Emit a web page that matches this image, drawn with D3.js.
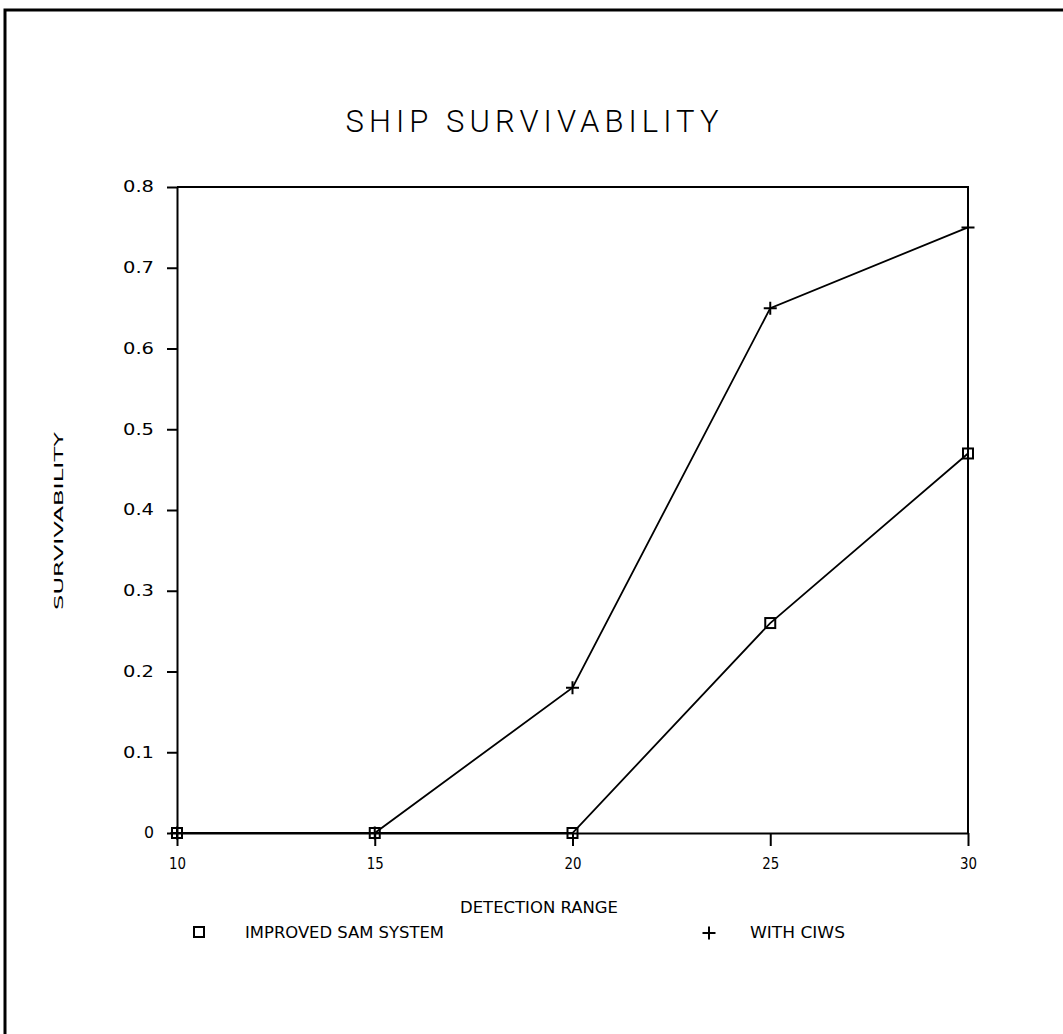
<!DOCTYPE html>
<html>
<head>
<meta charset="utf-8">
<script src="https://cdn.jsdelivr.net/npm/d3@7"></script>
<style>
  body { margin: 0; background: #fff; }
  svg { display: block; }
</style>
</head>
<body>
<div id="chart"></div>
<script>
// values
const detectionRange = [10, 15, 20, 25, 30];
const improvedSam = [0, 0, 0, 0.26, 0.47];
const withCiws = [0, 0, 0.18, 0.65, 0.75];
const xTicks = [10, 15, 20, 25, 30];
const yTicks = [0, 0.1, 0.2, 0.3, 0.4, 0.5, 0.6, 0.7, 0.8];
const yTickLabels = ["0", "0.1", "0.2", "0.3", "0.4", "0.5", "0.6", "0.7", "0.8"];
const seriesNames = ["IMPROVED SAM SYSTEM", "WITH CIWS"];

const W = 1063, H = 1034;
const plot = { left: 177, right: 968, top: 187, bottom: 833 };
const textFont = "'DejaVu Sans', 'Liberation Sans', sans-serif";

const svg = d3.select("#chart").append("svg")
  .attr("width", W)
  .attr("height", H);

// page frame (only top and left edges show in the scan)
svg.append("path")
  .attr("d", `M5,${H} V10 H${W}`)
  .attr("fill", "none")
  .attr("stroke", "#000")
  .attr("stroke-width", 3);

const x = d3.scaleLinear().domain([10, 30]).range([plot.left, plot.right]);
const y = d3.scaleLinear().domain([0, 0.8]).range([plot.bottom, plot.top]);

// title
svg.append("text")
  .attr("x", 532)
  .attr("y", 132)
  .attr("text-anchor", "middle")
  .attr("font-family", "Roboto, 'DejaVu Sans', sans-serif")
  .attr("font-weight", 300)
  .attr("font-size", 31)
  .attr("textLength", 373)
  .attr("lengthAdjust", "spacing")
  .text("SHIP SURVIVABILITY");

// top and right edges of plot box
svg.append("path")
  .attr("d", `M${plot.left},${plot.top} H${plot.right} V${plot.bottom}`)
  .attr("fill", "none")
  .attr("stroke", "#000")
  .attr("stroke-width", 2);

// y axis
const yAxis = svg.append("g")
  .attr("transform", `translate(${plot.left},0)`)
  .call(d3.axisLeft(y)
    .tickValues(yTicks)
    .tickFormat((d, i) => yTickLabels[i])
    .tickSize(10)
    .tickSizeOuter(0)
    .tickPadding(13));

yAxis.selectAll("path, line").attr("stroke", "#000").attr("stroke-width", 2);
yAxis.selectAll("text")
  .attr("font-family", textFont)
  .attr("font-size", 15)
  .attr("fill", "#000")
  .attr("textLength", d => yTickLabels[yTicks.indexOf(d)].length > 1 ? 31 : 10)
  .attr("lengthAdjust", "spacingAndGlyphs");

// x axis
const xAxis = svg.append("g")
  .attr("transform", `translate(0,${plot.bottom})`)
  .call(d3.axisBottom(x)
    .tickValues(xTicks)
    .tickFormat(d3.format("d"))
    .tickSize(13)
    .tickSizeOuter(0)
    .tickPadding(12));

xAxis.selectAll("path, line").attr("stroke", "#000").attr("stroke-width", 2);
xAxis.selectAll("text")
  .attr("font-family", textFont)
  .attr("font-size", 16)
  .attr("fill", "#000")
  .attr("textLength", 17)
  .attr("lengthAdjust", "spacingAndGlyphs");

// axis titles
svg.append("text")
  .attr("x", 539)
  .attr("y", 913)
  .attr("text-anchor", "middle")
  .attr("font-family", textFont)
  .attr("font-size", 15)
  .attr("textLength", 158)
  .attr("lengthAdjust", "spacingAndGlyphs")
  .text("DETECTION RANGE");

svg.append("text")
  .attr("transform", "translate(63,521) rotate(-90)")
  .attr("text-anchor", "middle")
  .attr("font-family", textFont)
  .attr("font-size", 12)
  .attr("textLength", 178)
  .attr("lengthAdjust", "spacingAndGlyphs")
  .text("SURVIVABILITY");

// lines
const line = d3.line()
  .x((d, i) => x(detectionRange[i]))
  .y(d => y(d));

[improvedSam, withCiws].forEach(vals => {
  svg.append("path")
    .datum(vals)
    .attr("d", line)
    .attr("fill", "none")
    .attr("stroke", "#000")
    .attr("stroke-width", 1.8);
});

// markers
const sq = 10, pl = 13;
function drawSquare(g, cx, cy) {
  g.append("rect")
    .attr("x", cx - sq / 2).attr("y", cy - sq / 2)
    .attr("width", sq).attr("height", sq)
    .attr("fill", "none").attr("stroke", "#000").attr("stroke-width", 2);
}
function drawPlus(g, cx, cy) {
  g.append("path")
    .attr("d", `M${cx - pl / 2},${cy} H${cx + pl / 2} M${cx},${cy - pl / 2} V${cy + pl / 2}`)
    .attr("stroke", "#000").attr("stroke-width", 2);
}

const marks = svg.append("g");
improvedSam.forEach((v, i) => drawSquare(marks, x(detectionRange[i]), y(v)));
withCiws.forEach((v, i) => drawPlus(marks, x(detectionRange[i]), y(v)));

// legend
const legend = svg.append("g");
drawSquare(legend, 199, 932);
legend.append("text")
  .attr("x", 245).attr("y", 938)
  .attr("font-family", textFont)
  .attr("font-size", 15)
  .attr("textLength", 199)
  .attr("lengthAdjust", "spacingAndGlyphs")
  .text(seriesNames[0]);

drawPlus(legend, 709, 933);
legend.append("text")
  .attr("x", 750).attr("y", 938)
  .attr("font-family", textFont)
  .attr("font-size", 15)
  .attr("textLength", 95)
  .attr("lengthAdjust", "spacingAndGlyphs")
  .text(seriesNames[1]);
</script>
</body>
</html>
